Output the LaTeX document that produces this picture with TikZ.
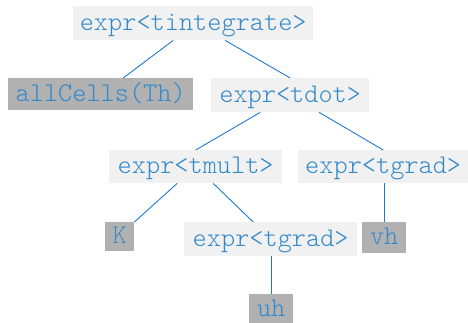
\documentclass[tikz,border=0pt]{standalone}
\usepackage{fontspec}
\newfontfamily\lmlight{Latin Modern Mono Light}
\definecolor{txtblue}{HTML}{3389CA}
\definecolor{lnblue}{HTML}{1F7ACC}
\definecolor{lightbox}{HTML}{F1F1F1}
\definecolor{darkbox}{HTML}{B1B1B1}
\begin{document}
\begin{tikzpicture}[x=1pt,y=1pt,
  base/.style={anchor=north west,inner sep=0pt,text=txtblue,
    font=\fontsize{27}{27}\selectfont\lmlight,
    text height=16pt,text depth=2pt},
  lbox/.style={base,fill=lightbox},
  dbox/.style={base,fill=darkbox},
  edge/.style={draw=lnblue,line width=0.9pt}]
\useasboundingbox (0,0) rectangle (468,-323);
\node[lbox,minimum width=240,minimum height=34] (root) at (73,-6) {expr<tintegrate>};
\node[dbox,minimum width=185,minimum height=32] (all) at (8,-78) {allCells(Th)};
\node[lbox,minimum width=158,minimum height=34] (tdot) at (211,-78) {expr<tdot>};
\node[lbox,minimum width=173,minimum height=33] (tmult) at (109,-150) {expr<tmult>};
\node[lbox,minimum width=170,minimum height=33] (tgradR) at (298,-150) {expr<tgrad>};
\node[dbox,minimum width=29,minimum height=29] (K) at (105,-222) {K};
\node[lbox,minimum width=173,minimum height=34] (tgradM) at (184,-222) {expr<tgrad>};
\node[dbox,minimum width=44,minimum height=31] (vh) at (362,-222) {vh};
\node[dbox,minimum width=44,minimum height=30] (uh) at (249,-294) {uh};
\draw[edge] ([xshift=-20pt]root.south) -- ([xshift=22.5pt]all.north);
\draw[edge] ([xshift=32pt]root.south) -- (tdot.north);
\draw[edge] ([xshift=-30pt]tdot.south) -- (tmult.north);
\draw[edge] ([xshift=29pt]tdot.south) -- (tgradR.north);
\draw[edge] ([xshift=-18.5pt]tmult.south) -- (K.north east);
\draw[edge] ([xshift=17.5pt]tmult.south) -- ([xshift=-17.5pt]tgradM.north);
\draw[edge] (vh.north |- tgradR.south) -- (vh.north);
\draw[edge] (uh.north |- tgradM.south) -- (uh.north);
\end{tikzpicture}
\end{document}
